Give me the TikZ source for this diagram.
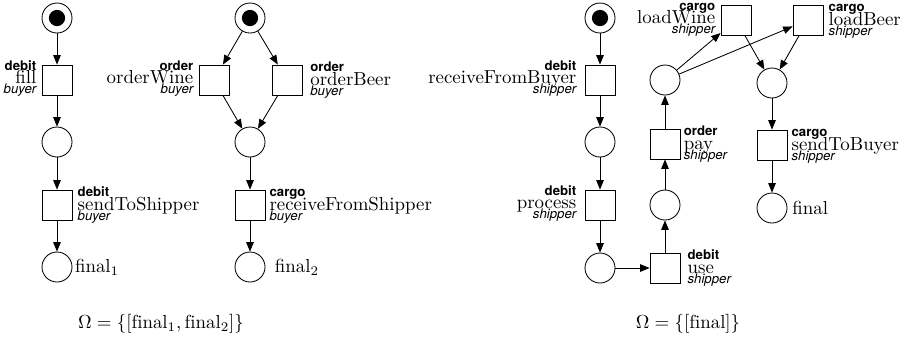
\documentclass[tikz,border=0pt]{standalone}
\usepackage{fontspec}
\setsansfont{TeX Gyre Heros}
\usetikzlibrary{arrows.meta}
\newcommand\kindf{\sffamily\bfseries\fontsize{7}{8}\selectfont}
\newcommand\rolef{\sffamily\itshape\fontsize{7}{8}\selectfont}
% label right-aligned (placed left of a transition)
\newcommand\lblR[3]{\vbox{\offinterlineskip\halign{\hfil##\cr
\vrule height4.8pt width0pt\smash{\kindf #1}\cr
\vrule height7.3pt width0pt\smash{#2}\cr
\vrule height5.2pt depth1.6pt width0pt\smash{\rolef #3}\cr}}}
% label left-aligned (placed right of a transition)
\newcommand\lblL[3]{\vbox{\offinterlineskip\halign{##\hfil\cr
\vrule height4.8pt width0pt\smash{\kindf #1}\cr
\vrule height7.3pt width0pt\smash{#2}\cr
\vrule height5.2pt depth1.6pt width0pt\smash{\rolef #3}\cr}}}
\tikzset{
  place/.style={circle, draw, line width=0.45pt, minimum size=15.9pt, inner sep=0pt},
  trans/.style={rectangle, draw, line width=0.45pt, minimum size=15.9pt, inner sep=0pt},
  token/.style={circle, fill, minimum size=8.6pt, inner sep=0pt},
  arc/.style={-{Triangle[length=5pt,width=4pt]}, line width=0.45pt},
  tlabw/.style={inner sep=0pt, anchor=east, yshift=0.6pt},
  tlabe/.style={inner sep=0pt, anchor=west, yshift=-0.4pt},
  flab/.style={inner sep=0pt, anchor=west}
}
\begin{document}
\begin{tikzpicture}[x=0.53pt,y=-0.53pt]
\useasboundingbox (0,0) rectangle (907,340);

% ---------- net 1 ----------
\node[place] (a0) at (57,18) {};
\node[token] (a0t) at (a0) {};
\node[trans] (tfill) at (57,80) {};
\node[place] (a1) at (57,142) {};
\node[trans] (tsend) at (57,205) {};
\node[place] (fin1) at (57,267) {};
\node[tlabw] (lfill) at ([xshift=-2.6pt]tfill.west) {\lblR{debit}{fill}{buyer}};
\node[tlabe] (lsend) at ([xshift=2.6pt]tsend.east) {\lblL{debit}{sendToShipper}{buyer}};
\node[flab] (lfin1) at ([xshift=1.2pt]fin1.east) {final$_1$};
\draw[arc] (a0) -- (tfill);
\draw[arc] (tfill) -- (a1);
\draw[arc] (a1) -- (tsend);
\draw[arc] (tsend) -- (fin1);

% ---------- net 2 ----------
\node[place] (b0) at (250,18) {};
\node[token] (b0t) at (b0) {};
\node[trans] (tow) at (214,80) {};
\node[trans] (tob) at (287,80) {};
\node[place] (b1) at (250,142) {};
\node[trans] (trfs) at (250,205) {};
\node[place] (fin2) at (250,267) {};
\node[tlabw] (low) at ([xshift=-2.6pt]tow.west) {\lblR{order}{orderWine}{buyer}};
\node[tlabe] (lob) at ([xshift=4pt]tob.east) {\lblL{order}{orderBeer}{buyer}};
\node[tlabe] (lrfs) at ([xshift=2pt]trfs.east) {\lblL{cargo}{receiveFromShipper}{buyer}};
\node[flab] (lfin2) at ([xshift=4.8pt]fin2.east) {final$_2$};
\draw[arc] (b0) -- (tow);
\draw[arc] (b0) -- (tob);
\draw[arc] (tow) -- (b1);
\draw[arc] (tob) -- (b1);
\draw[arc] (b1) -- (trfs);
\draw[arc] (trfs) -- (fin2);

\node (om1) at (161,324) {$\Omega=\{[\mathrm{final}_1,\mathrm{final}_2]\}$};

% ---------- net 3 ----------
\node[place] (c0) at (600,18) {};
\node[token] (c0t) at (c0) {};
\node[trans] (trfb) at (600,80) {};
\node[place] (c1) at (600,142) {};
\node[trans] (tproc) at (600,205) {};
\node[place] (c2) at (600,268) {};
\node[trans] (tuse) at (665,268) {};
\node[place] (c3) at (665,205) {};
\node[trans] (tpay) at (665,144) {};
\node[place] (c4) at (665,80) {};
\node[trans] (tlw) at (736,20) {};
\node[trans] (tlb) at (808,20) {};
\node[place] (c5) at (772,83) {};
\node[trans] (tstb) at (772,145) {};
\node[place] (fin) at (772,208) {};

\node[tlabw] (lrfb) at ([xshift=-4.2pt]trfb.west) {\lblR{debit}{receiveFromBuyer}{shipper}};
\node[tlabw] (lproc) at ([xshift=-4.2pt]tproc.west) {\lblR{debit}{process}{shipper}};
\node[tlabe] (luse) at ([xshift=3.6pt]tuse.east) {\lblL{debit}{use}{shipper}};
\node[tlabe] (lpay) at ([xshift=1.6pt]tpay.east) {\lblL{order}{pay}{shipper}};
\node[tlabw] (llw) at ([xshift=-2.6pt]tlw.west) {\lblR{cargo}{loadWine}{shipper}};
\node[tlabe] (llb) at ([xshift=2.6pt]tlb.east) {\lblL{cargo}{loadBeer}{shipper}};
\node[tlabe] (lstb) at ([xshift=2pt]tstb.east) {\lblL{cargo}{sendToBuyer}{shipper}};
\node[flab] (lfin) at ([xshift=2.4pt]fin.east) {final};

\draw[arc] (c0) -- (trfb);
\draw[arc] (trfb) -- (c1);
\draw[arc] (c1) -- (tproc);
\draw[arc] (tproc) -- (c2);
\draw[arc] (c2) -- (tuse);
\draw[arc] (tuse) -- (c3);
\draw[arc] (c3) -- (tpay);
\draw[arc] (tpay) -- (c4);
\draw[arc] (c4) -- (tlw);
\draw[arc] (c4) -- (tlb);
\draw[arc] (tlw) -- (c5);
\draw[arc] (tlb) -- (c5);
\draw[arc] (c5) -- (tstb);
\draw[arc] (tstb) -- (fin);

\node (om2) at (688,324) {$\Omega=\{[\mathrm{final}]\}$};
\end{tikzpicture}
\end{document}
